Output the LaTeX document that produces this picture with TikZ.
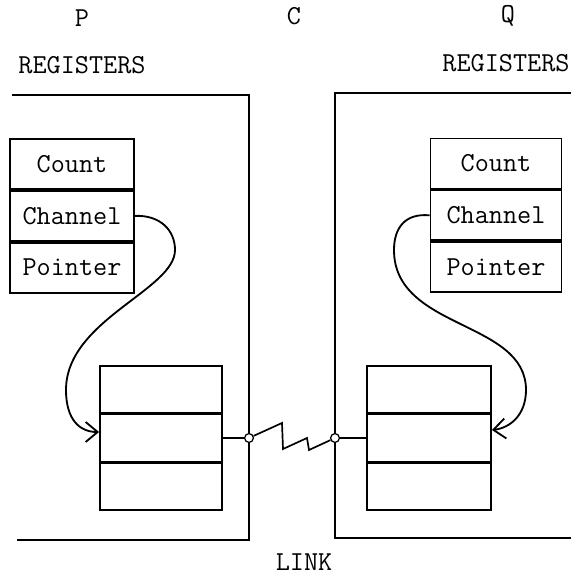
\documentclass[tikz,border=0pt]{standalone}
\usepackage{tikz}
\usetikzlibrary{arrows.meta,positioning}
\tikzset{
  regbox/.style={draw, line width=1.3pt, minimum width=3.1cm, minimum height=1.25cm, inner sep=0pt},
  bufbox/.style={draw, line width=1.3pt, minimum width=3.05cm, minimum height=1.175cm, inner sep=0pt},
  frame/.style={line width=1.1pt},
  plug/.style={circle, draw, fill=white, line width=0.9pt, minimum size=0.22cm, inner sep=0pt},
  link/.style={line width=1.2pt},
  ptr/.style={line width=1.3pt, -{Straight Barb[length=3mm, width=5mm, line width=1.3pt]}}
}

\begin{document}
\begin{tikzpicture}[x=0.025cm, y=-0.025cm, every node/.style={font=\ttfamily\fontsize{19.5}{22}\selectfont, inner sep=1pt}]
  \useasboundingbox (0,0) rectangle (586,577);
  \node (ptitle) at (82,18) {P};
  \node (ctitle) at (294,16) {C};
  \node (qtitle) at (508,16) {Q};
  \node (preg) at (82,65) {REGISTERS};
  \node (qreg) at (506,63) {REGISTERS};
  \node (linklabel) at (304,562) {LINK};
  \draw[frame] (12,95) -| (249,540) -- (17,540);
  \draw[frame] (571,93) -| (335,538) -- (571,538);
  \node[regbox] (pcount) at (72,164) {Count};
  \node[regbox, below=0pt of pcount] (pchan) {Channel};
  \node[regbox, below=0pt of pchan] (pptr) {Pointer};
  \node[regbox, minimum width=3.275cm] (qcount) at (496,163.5) {Count};
  \node[regbox, minimum width=3.275cm, below=0pt of qcount] (qchan) {Channel};
  \node[regbox, minimum width=3.275cm, below=0pt of qchan] (qptr) {Pointer};
  \node[bufbox] (pbuf2) at (161,438) {};
  \node[bufbox, above=0pt of pbuf2] (pbuf1) {};
  \node[bufbox, below=0pt of pbuf2] (pbuf3) {};
  \node[bufbox, minimum width=3.1cm] (qbuf2) at (429,438) {};
  \node[bufbox, minimum width=3.1cm, above=0pt of qbuf2] (qbuf1) {};
  \node[bufbox, minimum width=3.1cm, below=0pt of qbuf2] (qbuf3) {};
  \node[plug] (pplug) at (249,438) {};
  \node[plug] (qplug) at (335,438) {};
  \draw[link] (pbuf2.east) -- (pplug);
  \draw[link] (qplug) -- (qbuf2.west);
  \draw[link] (pplug) -- (282,423) -- (283,449) -- (307,438) -- (309,450) -- (qplug);
  \draw[ptr] (pchan.east) .. controls (160,215) and (175,230) .. (175,250)
    .. controls (175,290) and (66,320) .. (66,390)
    .. controls (66,420) and (80,432) .. ([yshift=0.15cm]pbuf2.west);
  \draw[ptr] (qchan.west) .. controls (405,213) and (394,228) .. (394,250)
    .. controls (394,330) and (526,320) .. (526,390)
    .. controls (526,415) and (510,428) .. ([yshift=0.2cm]qbuf2.east);
\end{tikzpicture}
\end{document}
